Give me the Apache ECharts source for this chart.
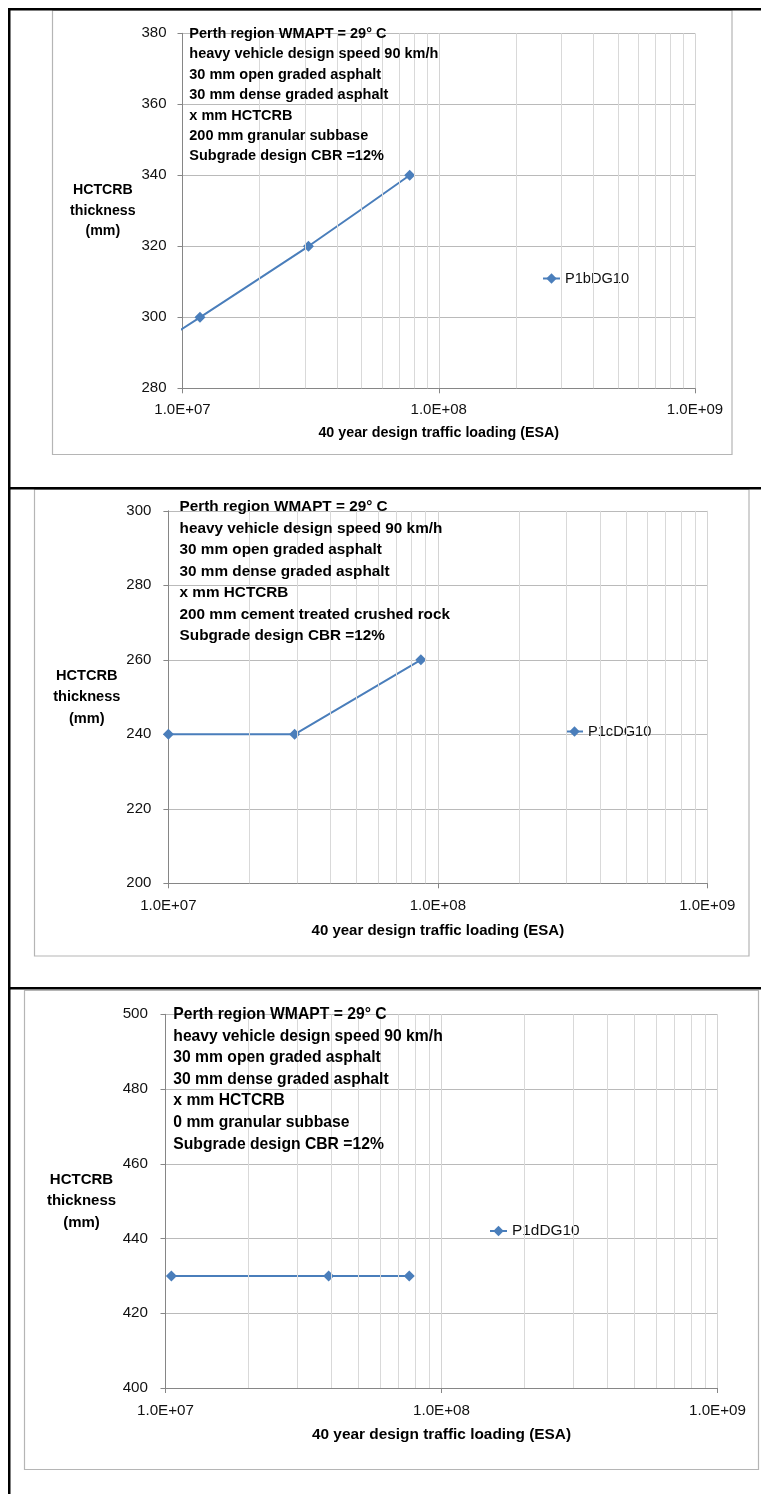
<!DOCTYPE html>
<html><head><meta charset="utf-8">
<script src="https://cdn.jsdelivr.net/npm/echarts@6/dist/echarts.min.js"></script>
<style>html,body{margin:0;padding:0;background:#fff}#c{width:761px;height:1494px}</style>
</head><body><div id="c"></div>
<script>
// ---------- data ----------
const seriesNames = ['P1bDG10', 'P1cDG10', 'P1dDG10'];
const traffic1 = [4.4e6, 1.17e7, 3.1e7, 7.7e7];
const thickness1 = [280, 300, 320, 340];
const traffic2 = [1.0e7, 2.94e7, 8.65e7];
const thickness2 = [240, 240, 260];
const traffic3 = [1.05e7, 3.9e7, 7.64e7];
const thickness3 = [430, 430, 430];
const yMin = [280, 200, 400];
const yMax = [380, 300, 500];
const yStep = 20;
const xMin = 1e7, xMax = 1e9;
const minorGridValues = [2e7, 3e7, 4e7, 5e7, 6e7, 7e7, 8e7, 9e7, 2e8, 3e8, 4e8, 5e8, 6e8, 7e8, 8e8, 9e8];
const notes1 = ['Perth region WMAPT = 29° C', 'heavy vehicle design speed 90 km/h', '30 mm open graded asphalt', '30 mm dense graded asphalt', 'x mm HCTCRB', '200 mm granular subbase', 'Subgrade design CBR =12%'];
const notes2 = ['Perth region WMAPT = 29° C', 'heavy vehicle design speed 90 km/h', '30 mm open graded asphalt', '30 mm dense graded asphalt', 'x mm HCTCRB', '200 mm cement treated crushed rock', 'Subgrade design CBR =12%'];
const notes3 = ['Perth region WMAPT = 29° C', 'heavy vehicle design speed 90 km/h', '30 mm open graded asphalt', '30 mm dense graded asphalt', 'x mm HCTCRB', '0 mm granular subbase', 'Subgrade design CBR =12%'];
const yTitle = 'HCTCRB\nthickness\n(mm)';
const xTitle = '40 year design traffic loading (ESA)';

// ---------- layout / style ----------
const FONT = "'Liberation Sans', Arial, sans-serif";
const LINE_COLOR = '#4A7EBB';
const panels = [
  { grid: {left: 182.5, top: 33.3, width: 512.5, height: 355},
    tick: 15, legendFs: 14.6, noteFs: 14.5, noteLH: 20.4, noteX: 189.3, noteY: 23.8,
    yTitleFs: 14.2, yTitleLH: 20.5, yGap: 77.5, xTitleFs: 14.3, xGap: 45, xMargin: 14.5, yMargin: 16,
    legend: {left: 542, top: 271}, smooth: 0.15,
    box: [52.5, 10.5, 679.5, 444] },
  { grid: {left: 168.4, top: 510.8, width: 538.9, height: 372.5},
    tick: 15, legendFs: 14.6, noteFs: 15.3, noteLH: 21.5, noteX: 179.6, noteY: 496.3,
    yTitleFs: 14.6, yTitleLH: 21.5, yGap: 81, xTitleFs: 15, xGap: 48, xMargin: 15.5, yMargin: 17,
    legend: {left: 565, top: 724}, smooth: false,
    box: [34.5, 489.5, 714.5, 466.5] },
  { grid: {left: 165.5, top: 1014.3, width: 552, height: 373.7},
    tick: 15.2, legendFs: 15.4, noteFs: 15.7, noteLH: 21.55, noteX: 173.3, noteY: 1004.2,
    yTitleFs: 15, yTitleLH: 21.7, yGap: 84, xTitleFs: 15.4, xGap: 47, xMargin: 15, yMargin: 17.5,
    legend: {left: 489, top: 1223.5}, smooth: false,
    box: [24.5, 990.5, 734, 479] }
];
const seriesData = [
  traffic1.map((x, i) => [x, thickness1[i]]),
  traffic2.map((x, i) => [x, thickness2[i]]),
  traffic3.map((x, i) => [x, thickness3[i]])
];
const notes = [notes1, notes2, notes3];

function expLabel(v) {
  const e = Math.round(Math.log10(v));
  const m = v / Math.pow(10, e);
  return m.toFixed(1) + 'E+' + String(e).padStart(2, '0');
}

const option = {
  animation: false,
  backgroundColor: '#fff',
  grid: [], xAxis: [], yAxis: [], series: [], legend: [], graphic: []
};

panels.forEach((p, i) => {
  option.grid.push(Object.assign({containLabel: false}, p.grid));
  option.xAxis.push({
    type: 'log', logBase: 10, gridIndex: i, min: xMin, max: xMax,
    axisLine: {show: true, lineStyle: {color: '#868686', width: 1}},
    axisTick: {show: true, length: 5, lineStyle: {color: '#868686'}},
    axisLabel: {formatter: expLabel, fontFamily: FONT, fontSize: p.tick, color: '#111', margin: p.xMargin},
    splitLine: {show: true, lineStyle: {color: '#d4d4d4', width: 1}},
    name: xTitle, nameLocation: 'middle', nameGap: p.xGap,
    nameTextStyle: {fontFamily: FONT, fontWeight: 'bold', fontSize: p.xTitleFs, color: '#000', verticalAlign: 'middle'}
  });
  option.yAxis.push({
    type: 'value', gridIndex: i, min: yMin[i], max: yMax[i], interval: yStep,
    axisLine: {show: true, lineStyle: {color: '#868686', width: 1}},
    axisTick: {show: true, length: 5, lineStyle: {color: '#868686'}},
    axisLabel: {fontFamily: FONT, fontSize: p.tick, color: '#111', margin: p.yMargin},
    splitLine: {show: true, lineStyle: {color: '#bababa', width: 1}},
    name: yTitle, nameLocation: 'middle', nameRotate: 0, nameGap: p.yGap,
    nameTextStyle: {fontFamily: FONT, fontWeight: 'bold', fontSize: p.yTitleFs, lineHeight: p.yTitleLH,
      color: '#000', align: 'center', verticalAlign: 'middle'}
  });
  // minor vertical gridlines
  option.series.push({
    name: 'minor' + i, type: 'line', xAxisIndex: i, yAxisIndex: i, data: [], z: 1, silent: true,
    markLine: {silent: true, symbol: 'none', label: {show: false}, animation: false,
      lineStyle: {color: '#d9d9d9', type: 'solid', width: 1},
      data: minorGridValues.map(v => ({xAxis: v}))}
  });
  option.series.push({
    name: seriesNames[i], type: 'line', xAxisIndex: i, yAxisIndex: i,
    data: seriesData[i], clip: true, smooth: p.smooth, z: 3,
    symbol: 'diamond', symbolSize: 11,
    lineStyle: {color: LINE_COLOR, width: 2},
    itemStyle: {color: LINE_COLOR}
  });
  option.legend.push({
    data: [seriesNames[i]], left: p.legend.left, top: p.legend.top, padding: 0,
    itemWidth: 17, itemHeight: 13, selectedMode: false,
    lineStyle: {width: 2, color: LINE_COLOR},
    itemStyle: {color: LINE_COLOR},
    textStyle: {fontFamily: FONT, fontSize: p.legendFs, color: '#111'}
  });
  option.graphic.push({
    type: 'rect', z: -1, silent: true,
    shape: {x: p.box[0], y: p.box[1], width: p.box[2], height: p.box[3]},
    style: {fill: 'none', stroke: '#b5b5b5', lineWidth: 1.2}
  });
  option.graphic.push({
    type: 'text', z: 10, silent: true, x: p.noteX, y: p.noteY,
    style: {text: notes[i].join('\n'), fontFamily: FONT, fontWeight: 'bold', fontSize: p.noteFs,
      lineHeight: p.noteLH, fill: '#000', align: 'left', verticalAlign: 'top'}
  });
});

// black frame of the document table
[[8, 8, 2.5, 1486], [8, 8, 753, 2.5], [8, 487, 753, 2.5], [8, 987, 753, 2.5]].forEach(r => {
  option.graphic.push({type: 'rect', silent: true, z: 20,
    shape: {x: r[0], y: r[1], width: r[2], height: r[3]}, style: {fill: '#000'}});
});

const chart = echarts.init(document.getElementById('c'), null, {renderer: 'canvas'});
chart.setOption(option);
</script>
</body></html>
